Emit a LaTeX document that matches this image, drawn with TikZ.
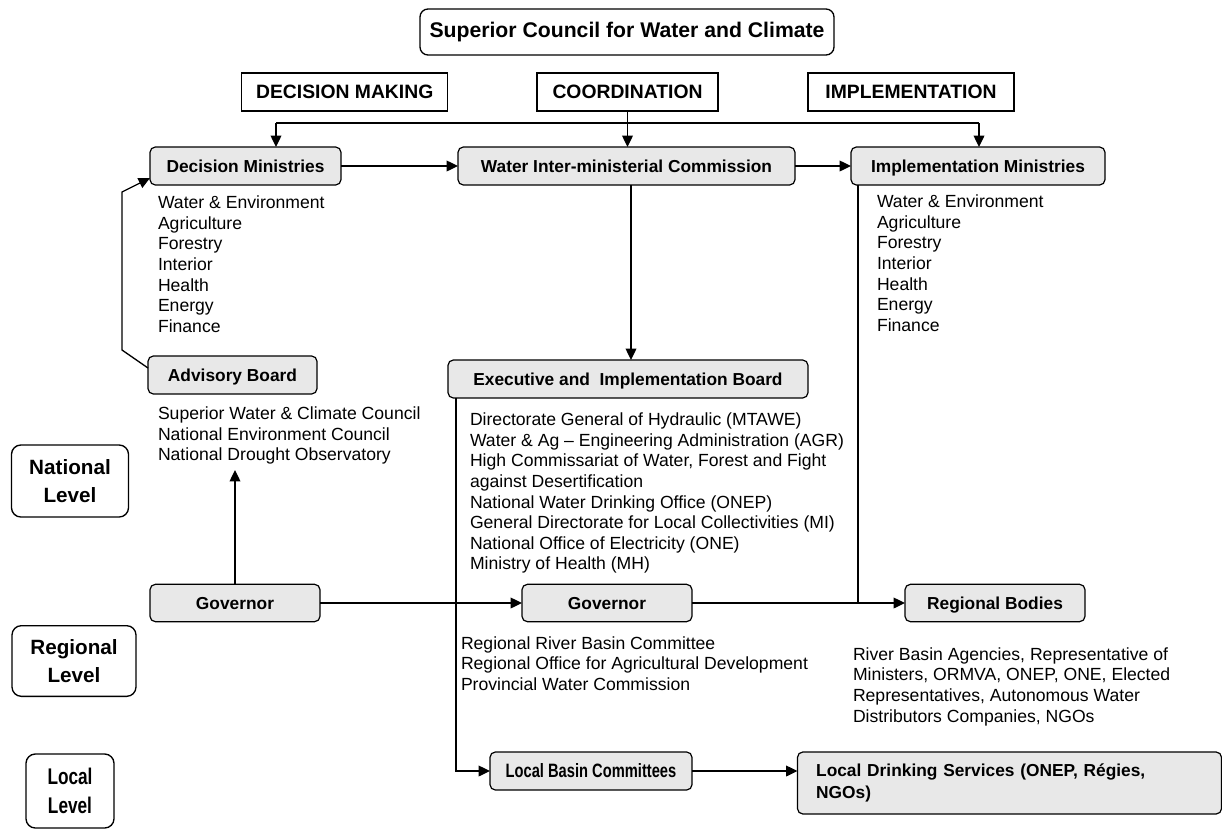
\documentclass[tikz,border=0pt]{standalone}
\usepackage{fontspec}
\setmainfont{Liberation Sans}
\newfontfamily\narrowfont[FakeStretch=0.76]{Liberation Sans}
\usetikzlibrary{arrows.meta,calc}
\definecolor{boxgray}{HTML}{E8E8E8}
\begin{document}
\begin{tikzpicture}[x=0.75pt,y=-0.75pt,
  every node/.style={inner sep=0pt,outer sep=0pt},
  boxbase/.style={draw,rounded corners=4pt,fill=boxgray,line width=0.9pt,font=\bfseries\fontsize{13}{15}\selectfont},
  box/.style={boxbase,text height=10.5pt,text depth=1.2pt},
  head/.style={draw,line width=0.9pt,font=\bfseries\fontsize{14.5}{17}\selectfont},
  lvl/.style={draw,rounded corners=7pt,line width=1pt,align=center,font=\bfseries\fontsize{15.5}{20.5}\selectfont},
  lst/.style={anchor=north west,align=left,font=\fontsize{13.2}{15.45}\selectfont},
  arr/.style={-{Triangle[length=8.5pt,width=8pt]},line width=1pt},
  ln/.style={line width=1pt}]
\useasboundingbox (0,0) rectangle (1222,832);

% title and headers
\node[draw,rounded corners=6pt,line width=1pt,minimum width=310.5pt,minimum height=34.5pt,font=\bfseries\fontsize{15.9}{18}\selectfont] (title) at (627,32) {Superior Council for Water and Climate};
\node[head,minimum width=154.5pt,minimum height=28.5pt] (hdm) at (344.7,92) {DECISION MAKING};
\node[head,minimum width=135.75pt,minimum height=28.5pt] (hco) at (627.5,92) {COORDINATION};
\node[head,minimum width=154.5pt,minimum height=28.5pt] (him) at (911,92) {IMPLEMENTATION};

% main boxes
\node[box,minimum width=143.25pt,minimum height=28.5pt] (decmin) at (245.5,166) {Decision Ministries};
\node[box,minimum width=252.75pt,minimum height=28.5pt] (wic) at (626.5,166) {Water Inter-ministerial Commission};
\node[box,minimum width=190.5pt,minimum height=28.5pt] (implmin) at (978,166) {Implementation Ministries};
\node[box,minimum width=126.75pt,minimum height=28.5pt] (adv) at (232.5,375) {Advisory Board};
\node[box,minimum width=270pt,minimum height=28.5pt] (exec) at (628,379) {Executive and~ Implementation Board};
\node[box,minimum width=127.5pt,minimum height=28pt] (gov1) at (235,603) {Governor};
\node[box,minimum width=127.5pt,minimum height=28pt] (gov2) at (607,603) {Governor};
\node[box,minimum width=135pt,minimum height=28pt] (rb) at (995,603) {Regional Bodies};
\node[boxbase,minimum width=151.5pt,minimum height=28.5pt,text height=11.5pt,text depth=1.3pt,font=\narrowfont\bfseries\fontsize{14.5}{16}\selectfont] (lbc) at (591,771) {Local Basin Committees};
\node[boxbase,minimum width=318pt,minimum height=46.5pt,align=left,text width=290pt,inner xsep=13pt,font=\bfseries\fontsize{13}{17}\selectfont] (lds) at (1009.5,783) {Local Drinking Services (ONEP, Régies,\\NGOs)};

% level labels
\node[lvl,minimum width=87.75pt,minimum height=54pt] (natl) at (70,481) {National\\Level};
\node[lvl,minimum width=93pt,minimum height=53pt] (regl) at (74,661) {Regional\\Level};
\node[lvl,minimum width=66pt,minimum height=55.5pt,font=\narrowfont\bfseries\fontsize{17}{21.5}\selectfont] (locl) at (70,791) {Local\\Level};

% lists
\node[lst] (declist) at (158,196) {Water \& Environment\\Agriculture\\Forestry\\Interior\\Health\\Energy\\Finance};
\node[lst] (implist) at (877,195) {Water \& Environment\\Agriculture\\Forestry\\Interior\\Health\\Energy\\Finance};
\node[lst] (advlist) at (158,407) {Superior Water \& Climate Council\\National Environment Council\\National Drought Observatory};
\node[lst] (execlist) at (470,413) {Directorate General of Hydraulic (MTAWE)\\Water \& Ag – Engineering Administration (AGR)\\High Commissariat of Water, Forest and Fight\\against Desertification\\National Water Drinking Office (ONEP)\\General Directorate for Local Collectivities (MI)\\National Office of Electricity (ONE)\\Ministry of Health (MH)};
\node[lst] (govlist) at (461,636.5) {Regional River Basin Committee\\Regional Office for Agricultural Development\\Provincial Water Commission};
\node[lst] (rblist) at (853,647.5) {River Basin Agencies, Representative of\\Ministers, ORMVA, ONEP, ONE, Elected\\Representatives, Autonomous Water\\Distributors Companies, NGOs};

% top bus
\coordinate (busL) at (276,123);
\coordinate (busM) at (627.5,123);
\coordinate (busR) at (979,123);
\draw[ln] (hco.south) -- (busM);
\draw[ln] (busL) -- (busR);
\draw[arr] (busL) -- (busL |- decmin.north);
\draw[arr] (busM) -- (busM |- wic.north);
\draw[arr] (busR) -- (busR |- implmin.north);

% horizontal links
\draw[arr] (decmin.east) -- (wic.west);
\draw[arr] (wic.east) -- (implmin.west);
\draw[arr] ($(wic.south)+(4.5,0)$) -- ($(exec.north)+(3,0)$);

% advisory to decision ministries
\coordinate (ak1) at (122,350);
\coordinate (ak2) at (122,192);
\draw[arr] ($(adv.west)+(0,-7)$) -- (ak1) -- (ak2) -- ($(decmin.west)+(0,12)$);

% governor up to advisory
\coordinate (advin) at (235,470);
\draw[arr] (gov1.north) -- (advin);

% governors
\draw[arr] (gov1.east) -- (gov2.west);
\draw[arr] (gov2.east) -- (rb.west);

% implementation ministries down to regional bodies line
\coordinate (imtop) at ($(implmin.south west)+(7,0)$);
\draw[ln] (imtop) -- (imtop |- rb.west);

% executive board down to local basin committees
\coordinate (extop) at ($(exec.south west)+(8,0)$);
\draw[arr] (extop) |- (lbc.west);

% local
\draw[arr] (lbc.east) -- (lbc.east -| lds.west);
\end{tikzpicture}
\end{document}
